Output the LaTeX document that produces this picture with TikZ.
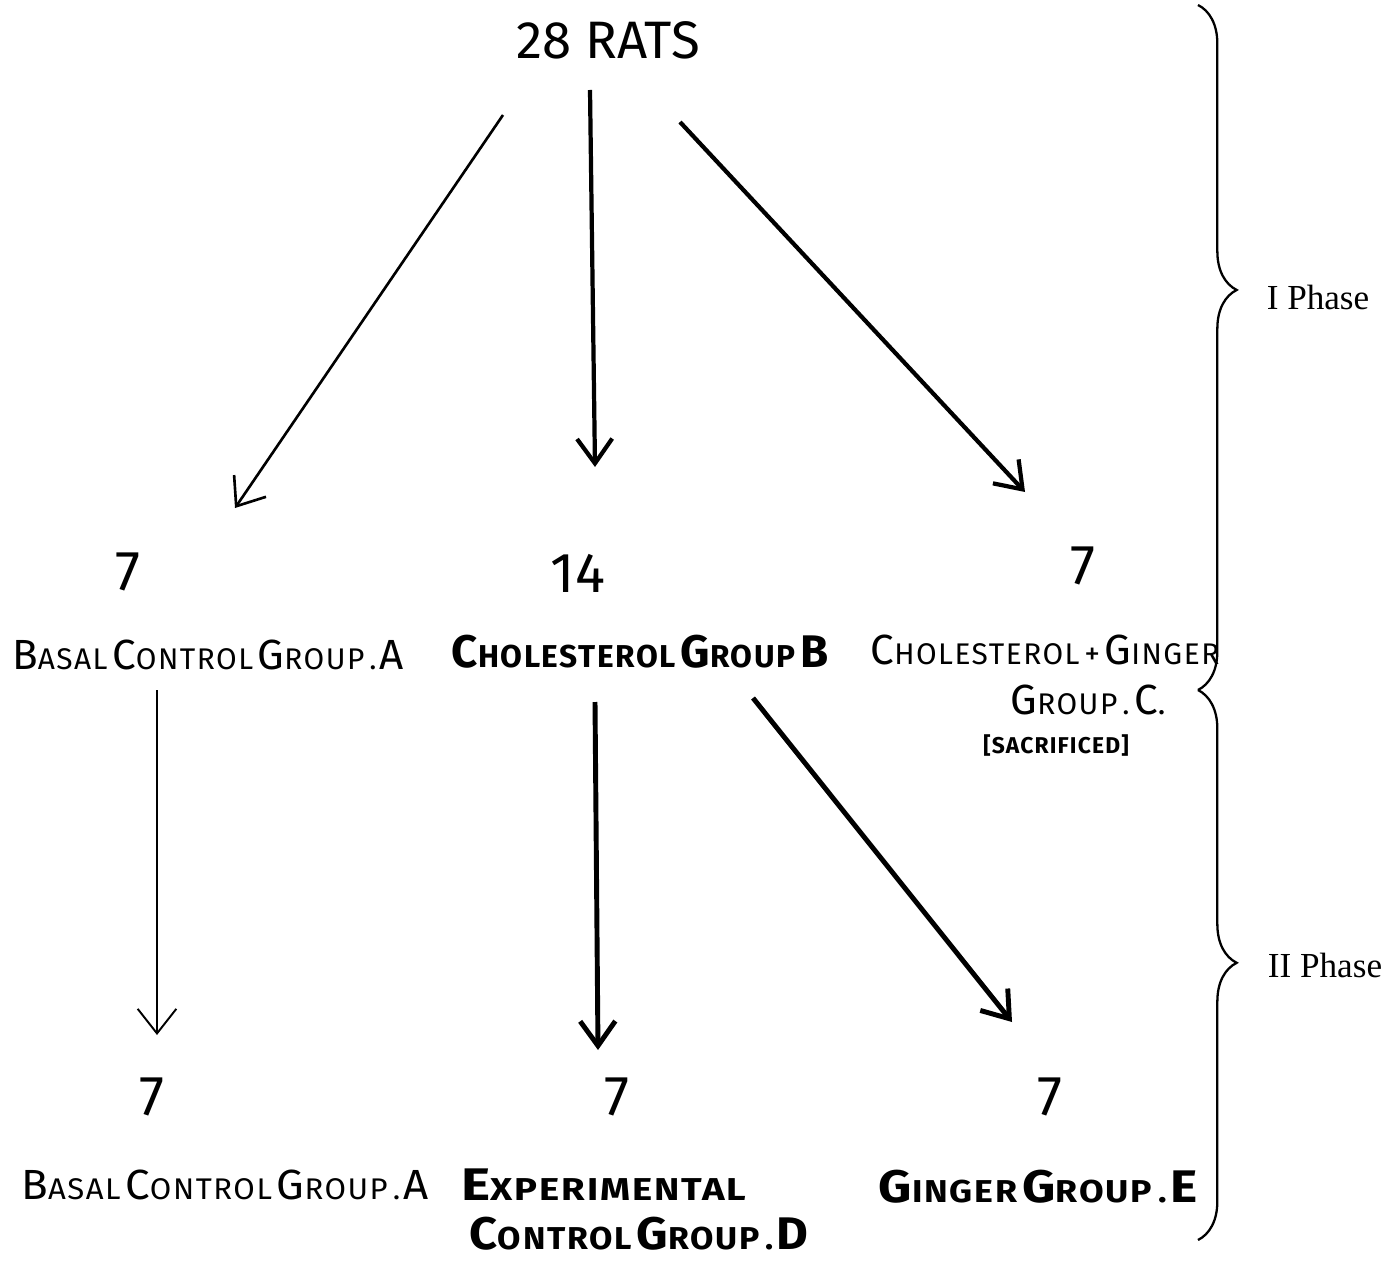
\documentclass[tikz,border=0pt]{standalone}
\usepackage{fontspec}
\usepackage{graphicx}
\setmainfont{Fira Sans}
\newfontfamily\phfont{Liberation Serif}
\newfontfamily\lsfont[LetterSpace=5]{Fira Sans}
\usetikzlibrary{arrows.meta,decorations.pathreplacing}
\newcommand\HC[2]{{\lsfont\fontsize{24}{26}\selectfont #1}{\lsfont\fontsize{17}{20}\selectfont #2}}
\newcommand\HCB[2]{{\lsfont\fontsize{26}{28}\selectfont\bfseries #1}{\lsfont\fontsize{18}{20}\selectfont\bfseries #2}}
\newcommand\SM[1]{{\lsfont\fontsize{18}{20}\selectfont #1}}
\begin{document}
\begin{tikzpicture}[x=0.02cm,y=-0.02cm,
  lbl/.style={inner sep=0pt, anchor=center},
  num/.style={lbl, font=\fontsize{32}{34}\selectfont},
  thinarr/.style={-{Straight Barb[length=14pt,width=22pt]}, line width=1.1pt},
  thickarr/.style={-{Straight Barb[length=14pt,width=20pt]}, line width=2.4pt},
  bracestyle/.style={decorate, line width=1.3pt},
  phase/.style={lbl, font=\phfont\fontsize{20}{22}\selectfont}]
\useasboundingbox (0,0) rectangle (1391,1263);
% top
\node[lbl, font=\fontsize{30}{32}\selectfont] (rats) at (608,40) {28 RATS};
% level 2
\node[num] (n7a) at (128,572) {7};
\node[num] (n14) at (578,573) {14};
\node[num] (n7c) at (1083,566) {7};
\node[lbl] (basalA) at (208,655) {\HC{B}{ASAL} \HC{C}{ONTROL} \HC{G}{ROUP\,.}\,\HC{A}{}};
\node[lbl] (cholB) at (640,652) {\HCB{C}{HOLESTEROL} \HCB{G}{ROUP} \HCB{B}{}};
\node[lbl] (cholG) at (1045,650) {\HC{C}{HOLESTEROL} \SM{+} \HC{G}{INGER}};
\node[lbl] (grpC) at (1088,700) {\HC{G}{ROUP\,.}~\HC{C}{}\SM{.}};
\node[lbl, font=\lsfont\fontsize{13}{15}\selectfont\bfseries] (sacr) at (1056,745) {[SACRIFICED]};
% level 3
\node[num] (n7d) at (152,1097) {7};
\node[num] (n7e) at (617,1097) {7};
\node[num] (n7f) at (1050,1097) {7};
\node[lbl] (basalA2) at (225,1185) {\scalebox{1.04}[1]{\HC{B}{ASAL} \HC{C}{ONTROL} \HC{G}{ROUP\,.}\,\HC{A}{}}};
\node[lbl] (exper) at (604,1185) {\scalebox{1.21}[1]{\HCB{E}{XPERIMENTAL}}};
\node[lbl] (ctrlD) at (639,1234) {\scalebox{1.07}[1]{\HCB{C}{ONTROL} \HCB{G}{ROUP\,.}\,\HCB{D}{}}};
\node[lbl] (ginger) at (1038,1187) {\scalebox{1.13}[1]{\HCB{G}{INGER} \HCB{G}{ROUP\,.}\,\HCB{E}{}}};
% arrow end points
\coordinate (a1s) at (503,115); \coordinate (a1e) at (235,508);
\coordinate (a2s) at (590,90);  \coordinate (a2e) at (595,467);
\coordinate (a3s) at (680,122); \coordinate (a3e) at (1025,492);
\coordinate (b1s) at (157,690); \coordinate (b1e) at (157,1035);
\coordinate (b2s) at (595,702); \coordinate (b2e) at (598,1050);
\coordinate (b3s) at (753,698); \coordinate (b3e) at (1012,1022);
\draw[thinarr, line width=1.5pt] (a1s) -- (a1e);
\draw[thickarr] (a2s) -- (a2e);
\draw[thickarr] (a3s) -- (a3e);
\draw[thinarr] (b1s) -- (b1e);
\draw[thickarr, line width=2.8pt] (b2s) -- (b2e);
\draw[thickarr, line width=2.8pt] (b3s) -- (b3e);
% braces
\draw[bracestyle, decoration={brace, amplitude=22pt, aspect=0.416}] (1198,5) -- (1198,690);
\draw[bracestyle, decoration={brace, amplitude=22pt, aspect=0.496}] (1198,690) -- (1198,1240);
\node[phase] (phase1) at (1318,297) {I Phase};
\node[phase] (phase2) at (1325,965) {II Phase};
\end{tikzpicture}
\end{document}
